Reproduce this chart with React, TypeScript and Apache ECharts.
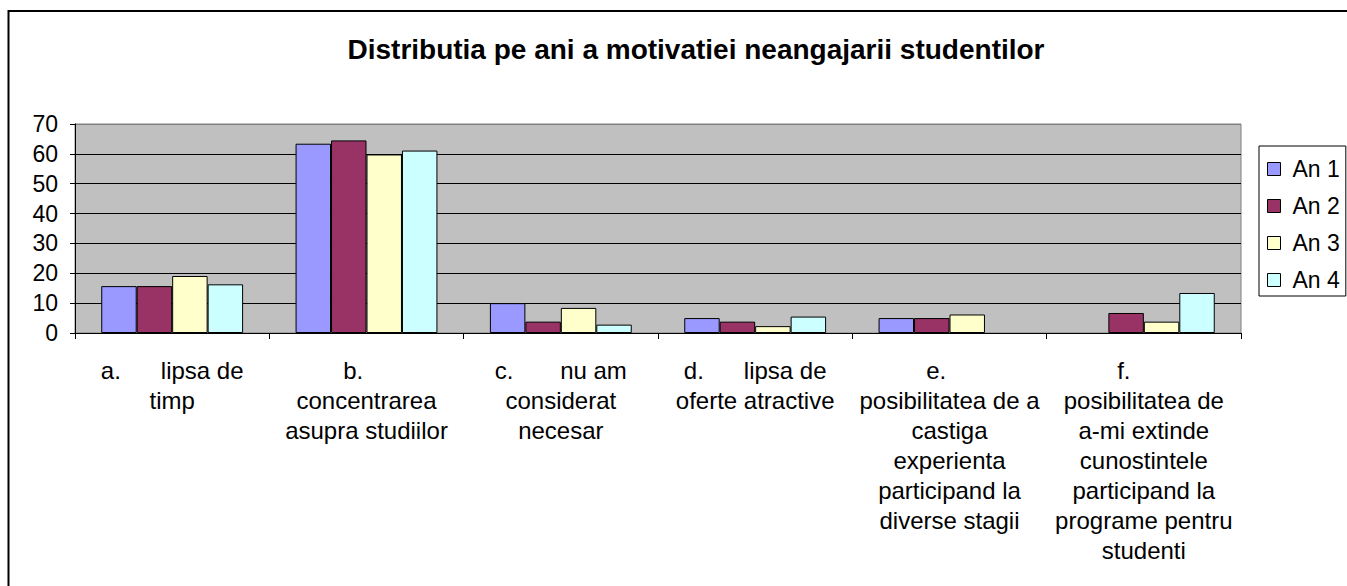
import React, { useEffect, useRef } from "react";
import * as echarts from "echarts";

const TITLE = "Distributia pe ani a motivatiei neangajarii studentilor";
const NB = "\u00A0";
const categories = [
  "a." + NB.repeat(6) + "lipsa de\ntimp",
  "b." + NB.repeat(4) + "\nconcentrarea\nasupra studiilor",
  "c." + NB.repeat(7) + "nu am\nconsiderat\nnecesar",
  "d." + NB.repeat(6) + "lipsa de\noferte atractive",
  "e." + NB.repeat(4) + "\nposibilitatea de a\ncastiga\nexperienta\nparticipand la\ndiverse stagii",
  "f." + NB.repeat(6) + "\nposibilitatea de\na-mi extinde\ncunostintele\nparticipand la\nprograme pentru\nstudenti",
];
const seriesNames = ["An 1", "An 2", "An 3", "An 4"];
const an1 = [15.7, 63.4, 10, 5, 5, null];
const an2 = [15.7, 64.5, 3.8, 3.8, 5, 6.7];
const an3 = [19.1, 59.8, 8.4, 2.3, 6.2, 3.8];
const an4 = [16.3, 61.1, 2.8, 5.5, null, 13.4];
const colors = ["#9999FF", "#993366", "#FFFFCC", "#CCFFFF"];
const yMin = 0;
const yMax = 70;
const yInterval = 10;

const FONT = '"Liberation Sans", Arial, sans-serif';

export default function App() {
  const ref = useRef<HTMLDivElement>(null);
  useEffect(() => {
    if (!ref.current) return;
    const chart = echarts.init(ref.current, null, { renderer: "svg" });
    const values = [an1, an2, an3, an4];
    chart.setOption({
      animation: false,
      textStyle: { fontFamily: FONT },
      title: {
        text: TITLE,
        left: 691,
        top: 30,
        textAlign: "center",
        textStyle: { fontFamily: FONT, fontSize: 28, fontWeight: "bold", color: "#000" },
      },
      graphic: [
        {
          type: "rect",
          shape: { x: 8.5, y: 11, width: 1500, height: 800 },
          style: { fill: "none", stroke: "#000", lineWidth: 2 },
          silent: true,
        },
      ],
      legend: {
        orient: "vertical",
        left: 1259,
        top: 146,
        padding: [11, 6, 4, 8],
        itemGap: 13,
        itemWidth: 13,
        itemHeight: 13,
        icon: "rect",
        borderColor: "#000",
        borderWidth: 1,
        backgroundColor: "#fff",
        itemStyle: { borderColor: "#000", borderWidth: 1 },
        textStyle: { fontFamily: FONT, fontSize: 23, lineHeight: 24, color: "#000", padding: [0, 0, 0, 7] },
        data: seriesNames,
      },
      grid: {
        left: 75,
        right: 106,
        top: 124,
        bottom: 253,
        show: true,
        backgroundColor: "#C0C0C0",
        borderColor: "#808080",
        borderWidth: 1,
      },
      xAxis: {
        type: "category",
        data: categories,
        boundaryGap: true,
        axisLine: { lineStyle: { color: "#000", width: 1 } },
        axisTick: { show: true, length: 6, lineStyle: { color: "#000" } },
        axisLabel: {
          interval: 0,
          margin: 22,
          fontFamily: FONT,
          fontSize: 24,
          lineHeight: 30,
          color: "#000",
          align: "center",
        },
        splitLine: { show: false },
      },
      yAxis: {
        type: "value",
        min: yMin,
        max: yMax,
        interval: yInterval,
        axisLine: { show: true, lineStyle: { color: "#000", width: 1 } },
        axisTick: { show: true, length: 5, lineStyle: { color: "#000" } },
        axisLabel: { margin: 17, fontFamily: FONT, fontSize: 23, color: "#000" },
        splitLine: {
          show: true,
          lineStyle: {
            color: ["#000", "#000", "#000", "#000", "#000", "#000", "#000", "#808080"],
            width: 1,
          },
        },
      },
      series: seriesNames.map((name, i) => ({
        name,
        type: "bar",
        data: values[i],
        barGap: "0%",
        barCategoryGap: "27%",
        itemStyle: { color: colors[i], borderColor: "#000", borderWidth: 1 },
      })),
    });
    return () => chart.dispose();
  }, []);
  return (
    <div
      ref={ref}
      style={{ position: "absolute", left: 0, top: 0, width: 1347, height: 586, background: "#fff" }}
    />
  );
}
